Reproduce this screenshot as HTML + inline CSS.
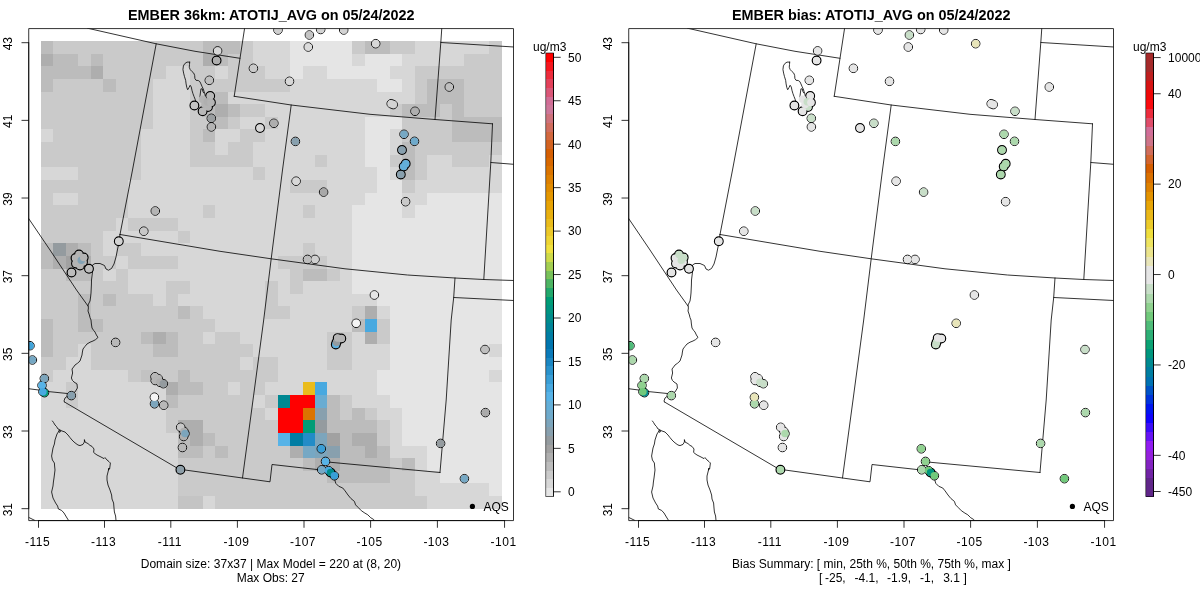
<!DOCTYPE html>
<html><head><meta charset="utf-8"><title>EMBER</title>
<style>
html,body{margin:0;padding:0;background:#fff;}
svg{display:block;font-family:"Liberation Sans",sans-serif;font-size:12px;fill:#000;will-change:transform;}
text{white-space:pre;}
.t{font-weight:bold;font-size:14.4px;text-anchor:middle;}
.m{text-anchor:middle;}
.ln{fill:none;stroke:#000;stroke-width:0.8;stroke-linejoin:round;stroke-linecap:round;}
.ax{fill:none;stroke:#000;stroke-width:0.8;}
</style></head><body>
<svg width="1200" height="600" viewBox="0 0 1200 600">
<rect x="0" y="0" width="1200" height="600" fill="#fff"/>
<defs><clipPath id="cp"><rect x="28.72" y="28.58" width="484.78" height="492"/></clipPath></defs>
<g transform="translate(0,0)">
<g clip-path="url(#cp)">
<g shape-rendering="crispEdges">
<rect x="41.00" y="41.00" width="12.76" height="12.94" fill="#BCBCBC"/>
<rect x="53.46" y="41.00" width="149.76" height="12.94" fill="#CACACA"/>
<rect x="202.92" y="41.00" width="37.67" height="12.94" fill="#BCBCBC"/>
<rect x="240.29" y="41.00" width="12.76" height="12.94" fill="#CACACA"/>
<rect x="252.74" y="41.00" width="37.67" height="12.94" fill="#D7D7D7"/>
<rect x="290.11" y="41.00" width="62.58" height="12.94" fill="#E5E5E5"/>
<rect x="352.39" y="41.00" width="12.76" height="12.94" fill="#CACACA"/>
<rect x="364.84" y="41.00" width="25.21" height="12.94" fill="#BCBCBC"/>
<rect x="389.75" y="41.00" width="25.21" height="12.94" fill="#CACACA"/>
<rect x="414.66" y="41.00" width="75.03" height="12.94" fill="#D7D7D7"/>
<rect x="489.39" y="41.00" width="12.76" height="12.94" fill="#CACACA"/>
<rect x="41.00" y="53.64" width="12.76" height="12.94" fill="#AEAEAE"/>
<rect x="53.46" y="53.64" width="25.21" height="12.94" fill="#BCBCBC"/>
<rect x="78.37" y="53.64" width="12.76" height="12.94" fill="#CACACA"/>
<rect x="90.82" y="53.64" width="12.76" height="12.94" fill="#BCBCBC"/>
<rect x="103.28" y="53.64" width="99.94" height="12.94" fill="#CACACA"/>
<rect x="202.92" y="53.64" width="12.76" height="12.94" fill="#AEAEAE"/>
<rect x="215.38" y="53.64" width="12.76" height="12.94" fill="#BCBCBC"/>
<rect x="227.83" y="53.64" width="25.21" height="12.94" fill="#CACACA"/>
<rect x="252.74" y="53.64" width="37.67" height="12.94" fill="#D7D7D7"/>
<rect x="290.11" y="53.64" width="62.58" height="12.94" fill="#E5E5E5"/>
<rect x="352.39" y="53.64" width="12.76" height="12.94" fill="#D7D7D7"/>
<rect x="364.84" y="53.64" width="37.67" height="12.94" fill="#E5E5E5"/>
<rect x="402.21" y="53.64" width="62.58" height="12.94" fill="#D7D7D7"/>
<rect x="464.48" y="53.64" width="37.67" height="12.94" fill="#CACACA"/>
<rect x="41.00" y="66.28" width="50.12" height="12.94" fill="#BCBCBC"/>
<rect x="90.82" y="66.28" width="12.76" height="12.94" fill="#AEAEAE"/>
<rect x="103.28" y="66.28" width="62.58" height="12.94" fill="#CACACA"/>
<rect x="165.55" y="66.28" width="25.21" height="12.94" fill="#D7D7D7"/>
<rect x="190.46" y="66.28" width="25.21" height="12.94" fill="#CACACA"/>
<rect x="215.38" y="66.28" width="12.76" height="12.94" fill="#D7D7D7"/>
<rect x="227.83" y="66.28" width="37.67" height="12.94" fill="#CACACA"/>
<rect x="265.20" y="66.28" width="25.21" height="12.94" fill="#D7D7D7"/>
<rect x="290.11" y="66.28" width="12.76" height="12.94" fill="#E5E5E5"/>
<rect x="302.56" y="66.28" width="25.21" height="12.94" fill="#D7D7D7"/>
<rect x="327.47" y="66.28" width="62.58" height="12.94" fill="#E5E5E5"/>
<rect x="389.75" y="66.28" width="25.21" height="12.94" fill="#D7D7D7"/>
<rect x="414.66" y="66.28" width="87.49" height="12.94" fill="#CACACA"/>
<rect x="41.00" y="78.93" width="12.76" height="12.94" fill="#BCBCBC"/>
<rect x="53.46" y="78.93" width="50.12" height="12.94" fill="#CACACA"/>
<rect x="103.28" y="78.93" width="12.76" height="12.94" fill="#BCBCBC"/>
<rect x="115.73" y="78.93" width="37.67" height="12.94" fill="#CACACA"/>
<rect x="153.10" y="78.93" width="37.67" height="12.94" fill="#D7D7D7"/>
<rect x="190.46" y="78.93" width="99.94" height="12.94" fill="#CACACA"/>
<rect x="290.11" y="78.93" width="87.49" height="12.94" fill="#D7D7D7"/>
<rect x="377.30" y="78.93" width="25.21" height="12.94" fill="#E5E5E5"/>
<rect x="402.21" y="78.93" width="12.76" height="12.94" fill="#D7D7D7"/>
<rect x="414.66" y="78.93" width="12.76" height="12.94" fill="#CACACA"/>
<rect x="427.12" y="78.93" width="37.67" height="12.94" fill="#BCBCBC"/>
<rect x="464.48" y="78.93" width="37.67" height="12.94" fill="#CACACA"/>
<rect x="41.00" y="91.57" width="112.40" height="12.94" fill="#CACACA"/>
<rect x="153.10" y="91.57" width="37.67" height="12.94" fill="#D7D7D7"/>
<rect x="190.46" y="91.57" width="25.21" height="12.94" fill="#CACACA"/>
<rect x="215.38" y="91.57" width="12.76" height="12.94" fill="#BCBCBC"/>
<rect x="227.83" y="91.57" width="187.13" height="12.94" fill="#D7D7D7"/>
<rect x="414.66" y="91.57" width="12.76" height="12.94" fill="#CACACA"/>
<rect x="427.12" y="91.57" width="37.67" height="12.94" fill="#BCBCBC"/>
<rect x="464.48" y="91.57" width="37.67" height="12.94" fill="#CACACA"/>
<rect x="41.00" y="104.21" width="112.40" height="12.94" fill="#CACACA"/>
<rect x="153.10" y="104.21" width="37.67" height="12.94" fill="#D7D7D7"/>
<rect x="190.46" y="104.21" width="12.76" height="12.94" fill="#CACACA"/>
<rect x="202.92" y="104.21" width="12.76" height="12.94" fill="#BCBCBC"/>
<rect x="215.38" y="104.21" width="12.76" height="12.94" fill="#AEAEAE"/>
<rect x="227.83" y="104.21" width="12.76" height="12.94" fill="#BCBCBC"/>
<rect x="240.29" y="104.21" width="25.21" height="12.94" fill="#CACACA"/>
<rect x="265.20" y="104.21" width="124.85" height="12.94" fill="#D7D7D7"/>
<rect x="389.75" y="104.21" width="12.76" height="12.94" fill="#CACACA"/>
<rect x="402.21" y="104.21" width="37.67" height="12.94" fill="#BCBCBC"/>
<rect x="439.57" y="104.21" width="12.76" height="12.94" fill="#CACACA"/>
<rect x="452.03" y="104.21" width="12.76" height="12.94" fill="#BCBCBC"/>
<rect x="464.48" y="104.21" width="37.67" height="12.94" fill="#CACACA"/>
<rect x="41.00" y="116.85" width="112.40" height="12.94" fill="#CACACA"/>
<rect x="153.10" y="116.85" width="37.67" height="12.94" fill="#D7D7D7"/>
<rect x="190.46" y="116.85" width="25.21" height="12.94" fill="#CACACA"/>
<rect x="215.38" y="116.85" width="12.76" height="12.94" fill="#BCBCBC"/>
<rect x="227.83" y="116.85" width="12.76" height="12.94" fill="#CACACA"/>
<rect x="240.29" y="116.85" width="25.21" height="12.94" fill="#D7D7D7"/>
<rect x="265.20" y="116.85" width="12.76" height="12.94" fill="#CACACA"/>
<rect x="277.65" y="116.85" width="87.49" height="12.94" fill="#D7D7D7"/>
<rect x="364.84" y="116.85" width="37.67" height="12.94" fill="#E5E5E5"/>
<rect x="402.21" y="116.85" width="50.12" height="12.94" fill="#CACACA"/>
<rect x="452.03" y="116.85" width="50.12" height="12.94" fill="#BCBCBC"/>
<rect x="41.00" y="129.49" width="12.76" height="12.94" fill="#D7D7D7"/>
<rect x="53.46" y="129.49" width="87.49" height="12.94" fill="#CACACA"/>
<rect x="140.64" y="129.49" width="50.12" height="12.94" fill="#D7D7D7"/>
<rect x="190.46" y="129.49" width="12.76" height="12.94" fill="#CACACA"/>
<rect x="202.92" y="129.49" width="12.76" height="12.94" fill="#BCBCBC"/>
<rect x="215.38" y="129.49" width="25.21" height="12.94" fill="#D7D7D7"/>
<rect x="240.29" y="129.49" width="25.21" height="12.94" fill="#CACACA"/>
<rect x="265.20" y="129.49" width="99.94" height="12.94" fill="#D7D7D7"/>
<rect x="364.84" y="129.49" width="25.21" height="12.94" fill="#E5E5E5"/>
<rect x="389.75" y="129.49" width="12.76" height="12.94" fill="#D7D7D7"/>
<rect x="402.21" y="129.49" width="50.12" height="12.94" fill="#CACACA"/>
<rect x="452.03" y="129.49" width="50.12" height="12.94" fill="#BCBCBC"/>
<rect x="41.00" y="142.14" width="99.94" height="12.94" fill="#CACACA"/>
<rect x="140.64" y="142.14" width="50.12" height="12.94" fill="#D7D7D7"/>
<rect x="190.46" y="142.14" width="25.21" height="12.94" fill="#CACACA"/>
<rect x="215.38" y="142.14" width="12.76" height="12.94" fill="#D7D7D7"/>
<rect x="227.83" y="142.14" width="25.21" height="12.94" fill="#CACACA"/>
<rect x="252.74" y="142.14" width="112.40" height="12.94" fill="#D7D7D7"/>
<rect x="364.84" y="142.14" width="25.21" height="12.94" fill="#E5E5E5"/>
<rect x="389.75" y="142.14" width="12.76" height="12.94" fill="#D7D7D7"/>
<rect x="402.21" y="142.14" width="12.76" height="12.94" fill="#BCBCBC"/>
<rect x="414.66" y="142.14" width="87.49" height="12.94" fill="#CACACA"/>
<rect x="41.00" y="154.78" width="99.94" height="12.94" fill="#CACACA"/>
<rect x="140.64" y="154.78" width="50.12" height="12.94" fill="#D7D7D7"/>
<rect x="190.46" y="154.78" width="62.58" height="12.94" fill="#CACACA"/>
<rect x="252.74" y="154.78" width="62.58" height="12.94" fill="#D7D7D7"/>
<rect x="315.02" y="154.78" width="12.76" height="12.94" fill="#CACACA"/>
<rect x="327.47" y="154.78" width="37.67" height="12.94" fill="#D7D7D7"/>
<rect x="364.84" y="154.78" width="25.21" height="12.94" fill="#E5E5E5"/>
<rect x="389.75" y="154.78" width="12.76" height="12.94" fill="#CACACA"/>
<rect x="402.21" y="154.78" width="12.76" height="12.94" fill="#BCBCBC"/>
<rect x="414.66" y="154.78" width="12.76" height="12.94" fill="#CACACA"/>
<rect x="427.12" y="154.78" width="25.21" height="12.94" fill="#D7D7D7"/>
<rect x="452.03" y="154.78" width="37.67" height="12.94" fill="#CACACA"/>
<rect x="489.39" y="154.78" width="12.76" height="12.94" fill="#D7D7D7"/>
<rect x="41.00" y="167.42" width="37.67" height="12.94" fill="#D7D7D7"/>
<rect x="78.37" y="167.42" width="62.58" height="12.94" fill="#CACACA"/>
<rect x="140.64" y="167.42" width="112.40" height="12.94" fill="#D7D7D7"/>
<rect x="252.74" y="167.42" width="12.76" height="12.94" fill="#CACACA"/>
<rect x="265.20" y="167.42" width="112.40" height="12.94" fill="#D7D7D7"/>
<rect x="377.30" y="167.42" width="12.76" height="12.94" fill="#E5E5E5"/>
<rect x="389.75" y="167.42" width="12.76" height="12.94" fill="#D7D7D7"/>
<rect x="402.21" y="167.42" width="12.76" height="12.94" fill="#BCBCBC"/>
<rect x="414.66" y="167.42" width="12.76" height="12.94" fill="#CACACA"/>
<rect x="427.12" y="167.42" width="75.03" height="12.94" fill="#D7D7D7"/>
<rect x="41.00" y="180.06" width="87.49" height="12.94" fill="#CACACA"/>
<rect x="128.19" y="180.06" width="162.22" height="12.94" fill="#D7D7D7"/>
<rect x="290.11" y="180.06" width="37.67" height="12.94" fill="#CACACA"/>
<rect x="327.47" y="180.06" width="50.12" height="12.94" fill="#D7D7D7"/>
<rect x="377.30" y="180.06" width="25.21" height="12.94" fill="#E5E5E5"/>
<rect x="402.21" y="180.06" width="12.76" height="12.94" fill="#CACACA"/>
<rect x="414.66" y="180.06" width="87.49" height="12.94" fill="#D7D7D7"/>
<rect x="41.00" y="192.70" width="12.76" height="12.94" fill="#CACACA"/>
<rect x="53.46" y="192.70" width="25.21" height="12.94" fill="#D7D7D7"/>
<rect x="78.37" y="192.70" width="50.12" height="12.94" fill="#CACACA"/>
<rect x="128.19" y="192.70" width="236.95" height="12.94" fill="#D7D7D7"/>
<rect x="364.84" y="192.70" width="37.67" height="12.94" fill="#E5E5E5"/>
<rect x="402.21" y="192.70" width="25.21" height="12.94" fill="#D7D7D7"/>
<rect x="427.12" y="192.70" width="75.03" height="12.94" fill="#E5E5E5"/>
<rect x="41.00" y="205.34" width="87.49" height="12.94" fill="#CACACA"/>
<rect x="128.19" y="205.34" width="75.03" height="12.94" fill="#D7D7D7"/>
<rect x="202.92" y="205.34" width="12.76" height="12.94" fill="#CACACA"/>
<rect x="215.38" y="205.34" width="87.49" height="12.94" fill="#D7D7D7"/>
<rect x="302.56" y="205.34" width="12.76" height="12.94" fill="#CACACA"/>
<rect x="315.02" y="205.34" width="37.67" height="12.94" fill="#D7D7D7"/>
<rect x="352.39" y="205.34" width="50.12" height="12.94" fill="#E5E5E5"/>
<rect x="402.21" y="205.34" width="12.76" height="12.94" fill="#D7D7D7"/>
<rect x="414.66" y="205.34" width="87.49" height="12.94" fill="#E5E5E5"/>
<rect x="41.00" y="217.99" width="75.03" height="12.94" fill="#CACACA"/>
<rect x="115.73" y="217.99" width="12.76" height="12.94" fill="#D7D7D7"/>
<rect x="128.19" y="217.99" width="50.12" height="12.94" fill="#CACACA"/>
<rect x="178.01" y="217.99" width="174.68" height="12.94" fill="#D7D7D7"/>
<rect x="352.39" y="217.99" width="149.76" height="12.94" fill="#E5E5E5"/>
<rect x="41.00" y="230.63" width="62.58" height="12.94" fill="#CACACA"/>
<rect x="103.28" y="230.63" width="75.03" height="12.94" fill="#D7D7D7"/>
<rect x="178.01" y="230.63" width="12.76" height="12.94" fill="#CACACA"/>
<rect x="190.46" y="230.63" width="162.22" height="12.94" fill="#D7D7D7"/>
<rect x="352.39" y="230.63" width="149.76" height="12.94" fill="#E5E5E5"/>
<rect x="41.00" y="243.27" width="12.76" height="12.94" fill="#BCBCBC"/>
<rect x="53.46" y="243.27" width="12.76" height="12.94" fill="#949B9F"/>
<rect x="65.91" y="243.27" width="12.76" height="12.94" fill="#AEAEAE"/>
<rect x="78.37" y="243.27" width="12.76" height="12.94" fill="#BCBCBC"/>
<rect x="90.82" y="243.27" width="12.76" height="12.94" fill="#CACACA"/>
<rect x="103.28" y="243.27" width="12.76" height="12.94" fill="#D7D7D7"/>
<rect x="115.73" y="243.27" width="25.21" height="12.94" fill="#CACACA"/>
<rect x="140.64" y="243.27" width="162.22" height="12.94" fill="#D7D7D7"/>
<rect x="302.56" y="243.27" width="12.76" height="12.94" fill="#CACACA"/>
<rect x="315.02" y="243.27" width="37.67" height="12.94" fill="#D7D7D7"/>
<rect x="352.39" y="243.27" width="149.76" height="12.94" fill="#E5E5E5"/>
<rect x="41.00" y="255.91" width="12.76" height="12.94" fill="#BCBCBC"/>
<rect x="53.46" y="255.91" width="12.76" height="12.94" fill="#AEAEAE"/>
<rect x="65.91" y="255.91" width="12.76" height="12.94" fill="#A1A1A1"/>
<rect x="78.37" y="255.91" width="12.76" height="12.94" fill="#AEAEAE"/>
<rect x="90.82" y="255.91" width="25.21" height="12.94" fill="#CACACA"/>
<rect x="115.73" y="255.91" width="12.76" height="12.94" fill="#D7D7D7"/>
<rect x="128.19" y="255.91" width="50.12" height="12.94" fill="#CACACA"/>
<rect x="178.01" y="255.91" width="99.94" height="12.94" fill="#D7D7D7"/>
<rect x="277.65" y="255.91" width="50.12" height="12.94" fill="#CACACA"/>
<rect x="327.47" y="255.91" width="25.21" height="12.94" fill="#D7D7D7"/>
<rect x="352.39" y="255.91" width="149.76" height="12.94" fill="#E5E5E5"/>
<rect x="41.00" y="268.55" width="25.21" height="12.94" fill="#CACACA"/>
<rect x="65.91" y="268.55" width="25.21" height="12.94" fill="#BCBCBC"/>
<rect x="90.82" y="268.55" width="12.76" height="12.94" fill="#CACACA"/>
<rect x="103.28" y="268.55" width="12.76" height="12.94" fill="#D7D7D7"/>
<rect x="115.73" y="268.55" width="12.76" height="12.94" fill="#CACACA"/>
<rect x="128.19" y="268.55" width="162.22" height="12.94" fill="#D7D7D7"/>
<rect x="290.11" y="268.55" width="12.76" height="12.94" fill="#CACACA"/>
<rect x="302.56" y="268.55" width="25.21" height="12.94" fill="#BCBCBC"/>
<rect x="327.47" y="268.55" width="12.76" height="12.94" fill="#CACACA"/>
<rect x="339.93" y="268.55" width="12.76" height="12.94" fill="#D7D7D7"/>
<rect x="352.39" y="268.55" width="149.76" height="12.94" fill="#E5E5E5"/>
<rect x="41.00" y="281.20" width="87.49" height="12.94" fill="#CACACA"/>
<rect x="128.19" y="281.20" width="37.67" height="12.94" fill="#D7D7D7"/>
<rect x="165.55" y="281.20" width="25.21" height="12.94" fill="#CACACA"/>
<rect x="190.46" y="281.20" width="75.03" height="12.94" fill="#D7D7D7"/>
<rect x="265.20" y="281.20" width="12.76" height="12.94" fill="#CACACA"/>
<rect x="277.65" y="281.20" width="12.76" height="12.94" fill="#D7D7D7"/>
<rect x="290.11" y="281.20" width="12.76" height="12.94" fill="#CACACA"/>
<rect x="302.56" y="281.20" width="50.12" height="12.94" fill="#D7D7D7"/>
<rect x="352.39" y="281.20" width="149.76" height="12.94" fill="#E5E5E5"/>
<rect x="41.00" y="293.84" width="37.67" height="12.94" fill="#CACACA"/>
<rect x="78.37" y="293.84" width="12.76" height="12.94" fill="#BCBCBC"/>
<rect x="90.82" y="293.84" width="12.76" height="12.94" fill="#CACACA"/>
<rect x="103.28" y="293.84" width="12.76" height="12.94" fill="#BCBCBC"/>
<rect x="115.73" y="293.84" width="37.67" height="12.94" fill="#CACACA"/>
<rect x="153.10" y="293.84" width="12.76" height="12.94" fill="#D7D7D7"/>
<rect x="165.55" y="293.84" width="12.76" height="12.94" fill="#CACACA"/>
<rect x="178.01" y="293.84" width="87.49" height="12.94" fill="#D7D7D7"/>
<rect x="265.20" y="293.84" width="12.76" height="12.94" fill="#CACACA"/>
<rect x="277.65" y="293.84" width="99.94" height="12.94" fill="#D7D7D7"/>
<rect x="377.30" y="293.84" width="124.85" height="12.94" fill="#E5E5E5"/>
<rect x="41.00" y="306.48" width="37.67" height="12.94" fill="#CACACA"/>
<rect x="78.37" y="306.48" width="12.76" height="12.94" fill="#BCBCBC"/>
<rect x="90.82" y="306.48" width="87.49" height="12.94" fill="#CACACA"/>
<rect x="178.01" y="306.48" width="12.76" height="12.94" fill="#BCBCBC"/>
<rect x="190.46" y="306.48" width="12.76" height="12.94" fill="#CACACA"/>
<rect x="202.92" y="306.48" width="62.58" height="12.94" fill="#D7D7D7"/>
<rect x="265.20" y="306.48" width="25.21" height="12.94" fill="#CACACA"/>
<rect x="290.11" y="306.48" width="62.58" height="12.94" fill="#D7D7D7"/>
<rect x="352.39" y="306.48" width="12.76" height="12.94" fill="#CACACA"/>
<rect x="364.84" y="306.48" width="12.76" height="12.94" fill="#AEAEAE"/>
<rect x="377.30" y="306.48" width="12.76" height="12.94" fill="#D7D7D7"/>
<rect x="389.75" y="306.48" width="112.40" height="12.94" fill="#E5E5E5"/>
<rect x="41.00" y="319.12" width="12.76" height="12.94" fill="#BCBCBC"/>
<rect x="53.46" y="319.12" width="25.21" height="12.94" fill="#CACACA"/>
<rect x="78.37" y="319.12" width="25.21" height="12.94" fill="#BCBCBC"/>
<rect x="103.28" y="319.12" width="112.40" height="12.94" fill="#CACACA"/>
<rect x="215.38" y="319.12" width="137.31" height="12.94" fill="#D7D7D7"/>
<rect x="352.39" y="319.12" width="12.76" height="12.94" fill="#BCBCBC"/>
<rect x="364.84" y="319.12" width="12.76" height="12.94" fill="#48A9E0"/>
<rect x="377.30" y="319.12" width="12.76" height="12.94" fill="#CACACA"/>
<rect x="389.75" y="319.12" width="112.40" height="12.94" fill="#E5E5E5"/>
<rect x="41.00" y="331.76" width="12.76" height="12.94" fill="#BCBCBC"/>
<rect x="53.46" y="331.76" width="87.49" height="12.94" fill="#CACACA"/>
<rect x="140.64" y="331.76" width="12.76" height="12.94" fill="#BCBCBC"/>
<rect x="153.10" y="331.76" width="12.76" height="12.94" fill="#AEAEAE"/>
<rect x="165.55" y="331.76" width="12.76" height="12.94" fill="#BCBCBC"/>
<rect x="178.01" y="331.76" width="25.21" height="12.94" fill="#CACACA"/>
<rect x="202.92" y="331.76" width="12.76" height="12.94" fill="#D7D7D7"/>
<rect x="215.38" y="331.76" width="25.21" height="12.94" fill="#CACACA"/>
<rect x="240.29" y="331.76" width="87.49" height="12.94" fill="#D7D7D7"/>
<rect x="327.47" y="331.76" width="25.21" height="12.94" fill="#CACACA"/>
<rect x="352.39" y="331.76" width="12.76" height="12.94" fill="#D7D7D7"/>
<rect x="364.84" y="331.76" width="12.76" height="12.94" fill="#AEAEAE"/>
<rect x="377.30" y="331.76" width="12.76" height="12.94" fill="#CACACA"/>
<rect x="389.75" y="331.76" width="112.40" height="12.94" fill="#E5E5E5"/>
<rect x="41.00" y="344.41" width="12.76" height="12.94" fill="#BCBCBC"/>
<rect x="53.46" y="344.41" width="25.21" height="12.94" fill="#CACACA"/>
<rect x="78.37" y="344.41" width="12.76" height="12.94" fill="#D7D7D7"/>
<rect x="90.82" y="344.41" width="62.58" height="12.94" fill="#CACACA"/>
<rect x="153.10" y="344.41" width="25.21" height="12.94" fill="#BCBCBC"/>
<rect x="178.01" y="344.41" width="75.03" height="12.94" fill="#CACACA"/>
<rect x="252.74" y="344.41" width="75.03" height="12.94" fill="#D7D7D7"/>
<rect x="327.47" y="344.41" width="25.21" height="12.94" fill="#CACACA"/>
<rect x="352.39" y="344.41" width="37.67" height="12.94" fill="#D7D7D7"/>
<rect x="389.75" y="344.41" width="99.94" height="12.94" fill="#E5E5E5"/>
<rect x="489.39" y="344.41" width="12.76" height="12.94" fill="#D7D7D7"/>
<rect x="41.00" y="357.05" width="25.21" height="12.94" fill="#CACACA"/>
<rect x="65.91" y="357.05" width="25.21" height="12.94" fill="#D7D7D7"/>
<rect x="90.82" y="357.05" width="149.76" height="12.94" fill="#CACACA"/>
<rect x="240.29" y="357.05" width="12.76" height="12.94" fill="#D7D7D7"/>
<rect x="252.74" y="357.05" width="25.21" height="12.94" fill="#CACACA"/>
<rect x="277.65" y="357.05" width="50.12" height="12.94" fill="#D7D7D7"/>
<rect x="327.47" y="357.05" width="25.21" height="12.94" fill="#CACACA"/>
<rect x="352.39" y="357.05" width="37.67" height="12.94" fill="#D7D7D7"/>
<rect x="389.75" y="357.05" width="112.40" height="12.94" fill="#E5E5E5"/>
<rect x="41.00" y="369.69" width="12.76" height="12.94" fill="#CACACA"/>
<rect x="53.46" y="369.69" width="75.03" height="12.94" fill="#D7D7D7"/>
<rect x="128.19" y="369.69" width="12.76" height="12.94" fill="#CACACA"/>
<rect x="140.64" y="369.69" width="12.76" height="12.94" fill="#C2C2C2"/>
<rect x="153.10" y="369.69" width="25.21" height="12.94" fill="#CACACA"/>
<rect x="178.01" y="369.69" width="12.76" height="12.94" fill="#BCBCBC"/>
<rect x="190.46" y="369.69" width="87.49" height="12.94" fill="#CACACA"/>
<rect x="277.65" y="369.69" width="99.94" height="12.94" fill="#D7D7D7"/>
<rect x="377.30" y="369.69" width="112.40" height="12.94" fill="#E5E5E5"/>
<rect x="489.39" y="369.69" width="12.76" height="12.94" fill="#D7D7D7"/>
<rect x="41.00" y="382.33" width="25.21" height="12.94" fill="#D7D7D7"/>
<rect x="65.91" y="382.33" width="12.76" height="12.94" fill="#CACACA"/>
<rect x="78.37" y="382.33" width="87.49" height="12.94" fill="#D7D7D7"/>
<rect x="165.55" y="382.33" width="12.76" height="12.94" fill="#AEAEAE"/>
<rect x="178.01" y="382.33" width="25.21" height="12.94" fill="#BCBCBC"/>
<rect x="202.92" y="382.33" width="25.21" height="12.94" fill="#CACACA"/>
<rect x="227.83" y="382.33" width="12.76" height="12.94" fill="#D7D7D7"/>
<rect x="240.29" y="382.33" width="25.21" height="12.94" fill="#CACACA"/>
<rect x="265.20" y="382.33" width="37.67" height="12.94" fill="#D7D7D7"/>
<rect x="302.56" y="382.33" width="12.76" height="12.94" fill="#EABC1C"/>
<rect x="315.02" y="382.33" width="12.76" height="12.94" fill="#48A9E0"/>
<rect x="327.47" y="382.33" width="50.12" height="12.94" fill="#D7D7D7"/>
<rect x="377.30" y="382.33" width="124.85" height="12.94" fill="#E5E5E5"/>
<rect x="41.00" y="394.97" width="25.21" height="12.94" fill="#D7D7D7"/>
<rect x="65.91" y="394.97" width="12.76" height="12.94" fill="#CACACA"/>
<rect x="78.37" y="394.97" width="87.49" height="12.94" fill="#D7D7D7"/>
<rect x="165.55" y="394.97" width="12.76" height="12.94" fill="#BCBCBC"/>
<rect x="178.01" y="394.97" width="75.03" height="12.94" fill="#CACACA"/>
<rect x="252.74" y="394.97" width="12.76" height="12.94" fill="#D7D7D7"/>
<rect x="265.20" y="394.97" width="12.76" height="12.94" fill="#CACACA"/>
<rect x="277.65" y="394.97" width="12.76" height="12.94" fill="#008892"/>
<rect x="290.11" y="394.97" width="25.21" height="12.94" fill="#FF0000"/>
<rect x="315.02" y="394.97" width="12.76" height="12.94" fill="#69ACD2"/>
<rect x="327.47" y="394.97" width="12.76" height="12.94" fill="#BCBCBC"/>
<rect x="339.93" y="394.97" width="12.76" height="12.94" fill="#CACACA"/>
<rect x="352.39" y="394.97" width="37.67" height="12.94" fill="#D7D7D7"/>
<rect x="389.75" y="394.97" width="112.40" height="12.94" fill="#E5E5E5"/>
<rect x="41.00" y="407.61" width="124.85" height="12.94" fill="#D7D7D7"/>
<rect x="165.55" y="407.61" width="99.94" height="12.94" fill="#CACACA"/>
<rect x="265.20" y="407.61" width="12.76" height="12.94" fill="#D7D7D7"/>
<rect x="277.65" y="407.61" width="25.21" height="12.94" fill="#FF0000"/>
<rect x="302.56" y="407.61" width="12.76" height="12.94" fill="#DB7400"/>
<rect x="315.02" y="407.61" width="12.76" height="12.94" fill="#88A0AE"/>
<rect x="327.47" y="407.61" width="12.76" height="12.94" fill="#BCBCBC"/>
<rect x="339.93" y="407.61" width="12.76" height="12.94" fill="#CACACA"/>
<rect x="352.39" y="407.61" width="12.76" height="12.94" fill="#BCBCBC"/>
<rect x="364.84" y="407.61" width="12.76" height="12.94" fill="#CACACA"/>
<rect x="377.30" y="407.61" width="25.21" height="12.94" fill="#D7D7D7"/>
<rect x="402.21" y="407.61" width="99.94" height="12.94" fill="#E5E5E5"/>
<rect x="41.00" y="420.26" width="124.85" height="12.94" fill="#D7D7D7"/>
<rect x="165.55" y="420.26" width="12.76" height="12.94" fill="#CACACA"/>
<rect x="178.01" y="420.26" width="25.21" height="12.94" fill="#AEAEAE"/>
<rect x="202.92" y="420.26" width="75.03" height="12.94" fill="#CACACA"/>
<rect x="277.65" y="420.26" width="25.21" height="12.94" fill="#FF0000"/>
<rect x="302.56" y="420.26" width="12.76" height="12.94" fill="#009C76"/>
<rect x="315.02" y="420.26" width="12.76" height="12.94" fill="#949B9F"/>
<rect x="327.47" y="420.26" width="50.12" height="12.94" fill="#BCBCBC"/>
<rect x="377.30" y="420.26" width="12.76" height="12.94" fill="#CACACA"/>
<rect x="389.75" y="420.26" width="12.76" height="12.94" fill="#D7D7D7"/>
<rect x="402.21" y="420.26" width="99.94" height="12.94" fill="#E5E5E5"/>
<rect x="41.00" y="432.90" width="137.31" height="12.94" fill="#D7D7D7"/>
<rect x="178.01" y="432.90" width="12.76" height="12.94" fill="#BCBCBC"/>
<rect x="190.46" y="432.90" width="12.76" height="12.94" fill="#AEAEAE"/>
<rect x="202.92" y="432.90" width="12.76" height="12.94" fill="#BCBCBC"/>
<rect x="215.38" y="432.90" width="62.58" height="12.94" fill="#CACACA"/>
<rect x="277.65" y="432.90" width="12.76" height="12.94" fill="#57B3E7"/>
<rect x="290.11" y="432.90" width="12.76" height="12.94" fill="#007DA3"/>
<rect x="302.56" y="432.90" width="12.76" height="12.94" fill="#228CC7"/>
<rect x="315.02" y="432.90" width="12.76" height="12.94" fill="#7CA5BC"/>
<rect x="327.47" y="432.90" width="12.76" height="12.94" fill="#A1A1A1"/>
<rect x="339.93" y="432.90" width="12.76" height="12.94" fill="#BCBCBC"/>
<rect x="352.39" y="432.90" width="25.21" height="12.94" fill="#AEAEAE"/>
<rect x="377.30" y="432.90" width="12.76" height="12.94" fill="#CACACA"/>
<rect x="389.75" y="432.90" width="12.76" height="12.94" fill="#D7D7D7"/>
<rect x="402.21" y="432.90" width="99.94" height="12.94" fill="#E5E5E5"/>
<rect x="41.00" y="445.54" width="137.31" height="12.94" fill="#D7D7D7"/>
<rect x="178.01" y="445.54" width="25.21" height="12.94" fill="#BCBCBC"/>
<rect x="202.92" y="445.54" width="12.76" height="12.94" fill="#CACACA"/>
<rect x="215.38" y="445.54" width="12.76" height="12.94" fill="#BCBCBC"/>
<rect x="227.83" y="445.54" width="62.58" height="12.94" fill="#CACACA"/>
<rect x="290.11" y="445.54" width="12.76" height="12.94" fill="#AEAEAE"/>
<rect x="302.56" y="445.54" width="12.76" height="12.94" fill="#76A8C4"/>
<rect x="315.02" y="445.54" width="12.76" height="12.94" fill="#7CA5BC"/>
<rect x="327.47" y="445.54" width="12.76" height="12.94" fill="#88A0AE"/>
<rect x="339.93" y="445.54" width="25.21" height="12.94" fill="#BCBCBC"/>
<rect x="364.84" y="445.54" width="12.76" height="12.94" fill="#AEAEAE"/>
<rect x="377.30" y="445.54" width="12.76" height="12.94" fill="#BCBCBC"/>
<rect x="389.75" y="445.54" width="37.67" height="12.94" fill="#D7D7D7"/>
<rect x="427.12" y="445.54" width="75.03" height="12.94" fill="#E5E5E5"/>
<rect x="41.00" y="458.18" width="137.31" height="12.94" fill="#D7D7D7"/>
<rect x="178.01" y="458.18" width="124.85" height="12.94" fill="#CACACA"/>
<rect x="302.56" y="458.18" width="12.76" height="12.94" fill="#BCBCBC"/>
<rect x="315.02" y="458.18" width="25.21" height="12.94" fill="#AEAEAE"/>
<rect x="339.93" y="458.18" width="50.12" height="12.94" fill="#BCBCBC"/>
<rect x="389.75" y="458.18" width="12.76" height="12.94" fill="#CACACA"/>
<rect x="402.21" y="458.18" width="12.76" height="12.94" fill="#BCBCBC"/>
<rect x="414.66" y="458.18" width="12.76" height="12.94" fill="#D7D7D7"/>
<rect x="427.12" y="458.18" width="75.03" height="12.94" fill="#E5E5E5"/>
<rect x="41.00" y="470.82" width="137.31" height="12.94" fill="#D7D7D7"/>
<rect x="178.01" y="470.82" width="149.76" height="12.94" fill="#CACACA"/>
<rect x="327.47" y="470.82" width="62.58" height="12.94" fill="#BCBCBC"/>
<rect x="389.75" y="470.82" width="25.21" height="12.94" fill="#CACACA"/>
<rect x="414.66" y="470.82" width="25.21" height="12.94" fill="#D7D7D7"/>
<rect x="439.57" y="470.82" width="62.58" height="12.94" fill="#E5E5E5"/>
<rect x="41.00" y="483.47" width="137.31" height="12.94" fill="#D7D7D7"/>
<rect x="178.01" y="483.47" width="236.95" height="12.94" fill="#CACACA"/>
<rect x="414.66" y="483.47" width="75.03" height="12.94" fill="#D7D7D7"/>
<rect x="489.39" y="483.47" width="12.76" height="12.94" fill="#E5E5E5"/>
<rect x="41.00" y="496.11" width="137.31" height="12.94" fill="#D7D7D7"/>
<rect x="178.01" y="496.11" width="25.21" height="12.94" fill="#C4C4C4"/>
<rect x="202.92" y="496.11" width="12.76" height="12.94" fill="#D7D7D7"/>
<rect x="215.38" y="496.11" width="212.04" height="12.94" fill="#CACACA"/>
<rect x="427.12" y="496.11" width="75.03" height="12.94" fill="#D7D7D7"/>
</g>
<g class="ln">
<path d="M87.5 28.2 L156.2 43.8 L195 51.3 L240 58.3"/>
<path d="M156.2 43.8 L132.5 170 L120 234.5"/>
<path d="M244.6 28.2 L240 58.3 L234.2 96.3"/>
<path d="M234.2 96.3 L291.2 105 L370 114.3 L435 119.5 L492.5 123.8"/>
<path d="M291.2 105 L282.5 170 L271.2 258.8 L263.7 320 L253 400 L242.5 478"/>
<path d="M441.8 28.2 L440.8 42.5 L435 119.5"/>
<path d="M440.8 42.5 L513.8 47"/>
<path d="M492.5 123.8 L490.8 162.5 L483.8 279.5"/>
<path d="M490.8 162.5 L513.8 164.3"/>
<path d="M120 234.5 L220 251.3 L271.2 258.8 L345 268.8 L407.5 275 L455 278 L483.8 279.5 L513.8 280.5"/>
<path d="M455 278 L453.7 297.5 L451.2 320 L446.2 400 L440 472.5"/>
<path d="M453.7 297.5 L513.8 300.5"/>
<path d="M28.5 218.3 L50 250 L76.5 290 L88 306"/>
<path d="M120 234.5 L118 247 L116 257 L114 264 L111.5 268.5 L108.5 270.2 L106 269 L104.5 265.5 L100 263.5 L95 263.5 L92.5 265 L92 269 L92.5 272 L91.5 280 L91.4 285 L91 293 L90.6 297 L90 301 L88 305 L88.4 308 L88 311 L89.4 315 L90 317.6 L91 320 L91.4 324 L92 328 L93.6 330.4 L95 332 L96.4 335 L98 337.4 L95.6 339.6 L93 341 L90 342.2 L87 344 L85 346.4 L83 349 L82.4 352 L82 355 L81 358 L80 361 L77.6 363.2 L75 365 L73.6 367 L72 369 L72.6 373 L71.4 378 L72.4 380.4 L74 382 L77 384 L77.4 388 L75 392 L71 394.5 L66.7 396.7 L65 398 L64 401 L64.5 402"/>
<path d="M28.5 388.7 L38.7 390 L48.7 391.6 L67.3 393.5"/>
<path d="M64.5 402 L177.5 468.3 L185 470 L242.5 478 L270 481.8 L272 464.5 L321.2 470"/>
<path d="M321.2 470 L324 465 L327.5 462 L440 472.5"/>
<path d="M330 473.8 L334.6 475.8 L334.9 480.4 L335.75 483.3 L338.7 486.25 L342.75 488 L345.1 490.9 L348 495 L350.9 498.5 L354.4 501.4 L355.6 504.9 L358.5 507.8 L361.4 510.75 L364.9 513.1 L367.8 514.8 L370.75 517.75 L373.7 519.5 L373.9 520.5"/>
<path d="M52.4 421 L53.6 422.6 L55 425 L56.4 426.4 L58 429 L59.6 429.6 L60.6 431.6 L59.4 432.4 L58.8 430.6 L60 430 L62 431 L65 432 L68 435 L70 437.6 L72 440 L74 442 L76 443.6 L78 445 L80 445.6 L83 444.4 L84.4 442 L84.4 439.6 L85 442 L88 443.6 L90 445.4 L92 446.4 L94 449 L93.6 452.4 L95 453.6 L97 455 L101 457 L104 458.6 L105 457.6 L107 460 L109 461.6 L110.4 463 L110 466 L109.6 469 L108.4 470 L109 468 L108 472 L107 476 L107 480 L108 485 L110 490 L111.6 495 L112 499 L113.6 503 L114 508 L114.4 512 L115.6 516 L116 520.5"/>
<path d="M59 431 L57 434 L55 440 L54.4 444 L53 448 L51.6 456 L52.4 460 L54.4 463 L54.6 466 L55 470 L54 478 L53.4 482 L53 486 L51.6 492 L53 498 L55.6 503 L57.6 506 L58.4 509 L61.6 510.4 L64 513 L66.4 517 L68.6 520.5"/>
<path d="M28.5 517.3 L35 520.5"/>
<path d="M189.7 62.1 L187 62.1 L184.75 63.65 L183.4 65.9 L182.95 69.5 L183.6 73.1 L184.5 76.7 L185.65 80.3 L186.1 83.9 L186.8 87.5 L187.7 89.75 L189 87.5 L190.15 85.25 L191.3 87.05 L191.95 90.2 L192.85 93.35 L194 96.5 L195.1 99.2 L195.6 101"/>
<path d="M189.7 62.1 L189.5 64.55 L189.25 67.25 L190.15 69.5 L191.95 71.5 L193.75 73.1 L194.65 75.35 L194.9 78.5 L196 80.3 L198.25 80.5 L199.9 81.65 L200.95 83.9 L202.1 86.6 L203.2 88.85 L204.1 91.55 L204.8 93.8 L205.2 95.8"/>
<path d="M199.6 98.3 L200.05 95.6 L200.5 92 L200.95 88.85 L202.3 88.85 L202.75 91.1 L203.65 92.9"/>
</g>
<g fill="none" stroke="#000">
<circle cx="278" cy="30" r="4.25" stroke-opacity="0.95" stroke-width="1"/>
<circle cx="320.7" cy="29.5" r="4.25" stroke-opacity="0.95" stroke-width="1"/>
<circle cx="343.7" cy="30" r="4.25" stroke-opacity="0.95" stroke-width="1"/>
<circle cx="309.4" cy="35" r="4.25" stroke-opacity="0.95" stroke-width="1"/>
<circle cx="308.3" cy="47" r="4.25" stroke-opacity="0.95" stroke-width="1"/>
<circle cx="375.7" cy="43.7" r="4.25" stroke-opacity="0.95" stroke-width="1"/>
<circle cx="217.6" cy="50.9" r="4.25" stroke-opacity="0.95" stroke-width="1"/>
<circle cx="216.6" cy="60.5" r="4.25" stroke-opacity="1" stroke-width="1.4"/>
<circle cx="253.4" cy="68.3" r="4.25" stroke-opacity="0.95" stroke-width="1"/>
<circle cx="289.5" cy="81.3" r="4.25" stroke-opacity="0.95" stroke-width="1"/>
<circle cx="449.3" cy="87" r="4.25" stroke-opacity="0.95" stroke-width="1"/>
<circle cx="391.2" cy="103.7" r="4.25" stroke-opacity="0.95" stroke-width="1"/>
<circle cx="393.2" cy="104.6" r="4.25" stroke-opacity="0.95" stroke-width="1"/>
<circle cx="415" cy="111.3" r="4.25" stroke-opacity="0.95" stroke-width="1"/>
<circle cx="209.3" cy="80.3" r="4.25" stroke-opacity="0.95" stroke-width="1"/>
<circle cx="210.2" cy="96" r="4.25" stroke-opacity="1" stroke-width="1.4"/>
<circle cx="208" cy="107" r="4.25" stroke-opacity="1" stroke-width="1.4"/>
<circle cx="210.9" cy="102.6" r="4.25" stroke-opacity="1" stroke-width="1.4"/>
<circle cx="194.4" cy="105.5" r="4.25" stroke-opacity="1" stroke-width="1.4"/>
<circle cx="202.6" cy="111.2" r="4.25" stroke-opacity="1" stroke-width="1.4"/>
<circle cx="211.3" cy="118.3" r="4.25" stroke-opacity="0.95" stroke-width="1"/>
<circle cx="211.4" cy="126.9" r="4.25" stroke-opacity="0.95" stroke-width="1"/>
<circle cx="260" cy="128" r="4.25" stroke-opacity="1" stroke-width="1.4"/>
<circle cx="273.9" cy="123.3" r="4.25" stroke-opacity="0.95" stroke-width="1"/>
<circle cx="295.4" cy="141.4" r="4.25" stroke-opacity="0.95" stroke-width="1"/>
<circle cx="404" cy="134.3" r="4.25" stroke-opacity="0.95" stroke-width="1"/>
<circle cx="414.5" cy="141.3" r="4.25" stroke-opacity="0.95" stroke-width="1"/>
<circle cx="402" cy="150" r="4.25" stroke-opacity="1" stroke-width="1.4"/>
<circle cx="403.7" cy="166.6" r="4.25" stroke-opacity="1" stroke-width="1.4"/>
<circle cx="405.7" cy="163.8" r="4.25" stroke-opacity="1" stroke-width="1.4"/>
<circle cx="400.8" cy="174.5" r="4.25" stroke-opacity="1" stroke-width="1.4"/>
<circle cx="296.1" cy="181.2" r="4.25" stroke-opacity="0.95" stroke-width="1"/>
<circle cx="323.6" cy="192.1" r="4.25" stroke-opacity="0.95" stroke-width="1"/>
<circle cx="405.6" cy="201.7" r="4.25" stroke-opacity="0.95" stroke-width="1"/>
<circle cx="155.3" cy="211" r="4.25" stroke-opacity="0.95" stroke-width="1"/>
<circle cx="143.8" cy="231.2" r="4.25" stroke-opacity="0.95" stroke-width="1"/>
<circle cx="118.8" cy="241.2" r="4.25" stroke-opacity="1" stroke-width="1.4"/>
<circle cx="75.5" cy="258" r="4.25" stroke-opacity="1" stroke-width="1.4"/>
<circle cx="76" cy="263.5" r="4.25" stroke-opacity="1" stroke-width="1.4"/>
<circle cx="80" cy="265.5" r="4.25" stroke-opacity="1" stroke-width="1.4"/>
<circle cx="79" cy="254.5" r="4.25" stroke-opacity="1" stroke-width="1.4"/>
<circle cx="83" cy="262" r="4.25" stroke-opacity="1" stroke-width="1.4"/>
<circle cx="81.3" cy="260.3" r="4.25" stroke-opacity="1" stroke-width="1.4"/>
<circle cx="83.7" cy="257.4" r="4.25" stroke-opacity="1" stroke-width="1.4"/>
<circle cx="89" cy="268.8" r="4.25" stroke-opacity="1" stroke-width="1.4"/>
<circle cx="71.5" cy="272.5" r="4.25" stroke-opacity="1" stroke-width="1.4"/>
<circle cx="307.5" cy="259.4" r="4.25" stroke-opacity="0.95" stroke-width="1"/>
<circle cx="315" cy="259.4" r="4.25" stroke-opacity="0.95" stroke-width="1"/>
<circle cx="374.4" cy="295" r="4.25" stroke-opacity="0.95" stroke-width="1"/>
<circle cx="356.2" cy="323.3" r="4.25" stroke-opacity="0.95" stroke-width="1"/>
<circle cx="335.8" cy="344.5" r="4.25" stroke-opacity="1" stroke-width="1.4"/>
<circle cx="336.5" cy="342.3" r="4.25" stroke-opacity="1" stroke-width="1.4"/>
<circle cx="337.7" cy="338.1" r="4.25" stroke-opacity="1" stroke-width="1.4"/>
<circle cx="341.3" cy="338.5" r="4.25" stroke-opacity="1" stroke-width="1.4"/>
<circle cx="485" cy="349.5" r="4.25" stroke-opacity="0.95" stroke-width="1"/>
<circle cx="485.4" cy="412.6" r="4.25" stroke-opacity="0.95" stroke-width="1"/>
<circle cx="440.6" cy="443.4" r="4.25" stroke-opacity="0.95" stroke-width="1"/>
<circle cx="464.4" cy="478.7" r="4.25" stroke-opacity="0.95" stroke-width="1"/>
<circle cx="321.3" cy="448.8" r="4.25" stroke-opacity="0.95" stroke-width="1"/>
<circle cx="325.5" cy="461.4" r="4.25" stroke-opacity="0.95" stroke-width="1"/>
<circle cx="321.7" cy="469.8" r="4.25" stroke-opacity="0.95" stroke-width="1"/>
<circle cx="328.6" cy="470.6" r="4.25" stroke-opacity="0.95" stroke-width="1"/>
<circle cx="330.6" cy="472.6" r="4.25" stroke-opacity="1" stroke-width="1.4"/>
<circle cx="334.4" cy="475.8" r="4.25" stroke-opacity="0.95" stroke-width="1"/>
<circle cx="30" cy="345.7" r="4.25" stroke-opacity="0.95" stroke-width="1"/>
<circle cx="32.4" cy="360" r="4.25" stroke-opacity="0.95" stroke-width="1"/>
<circle cx="44.3" cy="378.5" r="4.25" stroke-opacity="0.95" stroke-width="1"/>
<circle cx="42" cy="385.4" r="4.25" stroke-opacity="0.95" stroke-width="1"/>
<circle cx="44.5" cy="392.7" r="4.25" stroke-opacity="0.95" stroke-width="1"/>
<circle cx="42.9" cy="391.7" r="4.25" stroke-opacity="0.95" stroke-width="1"/>
<circle cx="71.3" cy="395.6" r="4.25" stroke-opacity="0.95" stroke-width="1"/>
<circle cx="115.6" cy="342.4" r="4.25" stroke-opacity="0.95" stroke-width="1"/>
<circle cx="155" cy="376.8" r="4.25" stroke-opacity="0.95" stroke-width="1"/>
<circle cx="155.2" cy="380.5" r="4.25" stroke-opacity="0.95" stroke-width="1"/>
<circle cx="158.2" cy="378.6" r="4.25" stroke-opacity="0.95" stroke-width="1"/>
<circle cx="160" cy="382.3" r="4.25" stroke-opacity="0.95" stroke-width="1"/>
<circle cx="163.3" cy="383.7" r="4.25" stroke-opacity="0.95" stroke-width="1"/>
<circle cx="154.5" cy="403.8" r="4.25" stroke-opacity="0.95" stroke-width="1"/>
<circle cx="154.4" cy="397.2" r="4.25" stroke-opacity="0.95" stroke-width="1"/>
<circle cx="163.7" cy="405.2" r="4.25" stroke-opacity="0.95" stroke-width="1"/>
<circle cx="180.7" cy="427.3" r="4.25" stroke-opacity="0.95" stroke-width="1"/>
<circle cx="183.7" cy="436.5" r="4.25" stroke-opacity="0.95" stroke-width="1"/>
<circle cx="183.9" cy="431.4" r="4.25" stroke-opacity="0.95" stroke-width="1"/>
<circle cx="185" cy="433.6" r="4.25" stroke-opacity="0.95" stroke-width="1"/>
<circle cx="182.4" cy="447.5" r="4.25" stroke-opacity="0.95" stroke-width="1"/>
<circle cx="180.4" cy="469.8" r="4.25" stroke-opacity="1" stroke-width="1.4"/>
</g>
<g>
<circle cx="278" cy="30" r="3.75" fill="#CFCFCF"/>
<circle cx="320.7" cy="29.5" r="3.75" fill="#D3D3D3"/>
<circle cx="343.7" cy="30" r="3.75" fill="#D3D3D3"/>
<circle cx="309.4" cy="35" r="3.75" fill="#C4C4C4"/>
<circle cx="308.3" cy="47" r="3.75" fill="#DBDBDB"/>
<circle cx="375.7" cy="43.7" r="3.75" fill="#D7D7D7"/>
<circle cx="217.6" cy="50.9" r="3.75" fill="#D7D7D7"/>
<circle cx="216.6" cy="60.5" r="3.75" fill="#AEAEAE"/>
<circle cx="253.4" cy="68.3" r="3.75" fill="#CACACA"/>
<circle cx="289.5" cy="81.3" r="3.75" fill="#D7D7D7"/>
<circle cx="449.3" cy="87" r="3.75" fill="#BFBFBF"/>
<circle cx="391.2" cy="103.7" r="3.75" fill="#D3D3D3"/>
<circle cx="393.2" cy="104.6" r="3.75" fill="#D3D3D3"/>
<circle cx="415" cy="111.3" r="3.75" fill="#AEAEAE"/>
<circle cx="209.3" cy="80.3" r="3.75" fill="#BFBFBF"/>
<circle cx="210.2" cy="96" r="3.75" fill="#B9B9B9"/>
<circle cx="202.5" cy="99.3" r="3.75" fill="#B5B5B5"/>
<circle cx="208" cy="107" r="3.75" fill="#B4B4B4"/>
<circle cx="205" cy="104.5" r="3.75" fill="#B4B4B4"/>
<circle cx="207.3" cy="101.8" r="3.75" fill="#AFAFAF"/>
<circle cx="210.9" cy="102.6" r="3.75" fill="#B4B4B4"/>
<circle cx="194.4" cy="105.5" r="3.75" fill="#C3C3C3"/>
<circle cx="202.6" cy="111.2" r="3.75" fill="#B8B8B8"/>
<circle cx="211.3" cy="118.3" r="3.75" fill="#9A9EA0"/>
<circle cx="211.4" cy="126.9" r="3.75" fill="#B4B4B4"/>
<circle cx="260" cy="128" r="3.75" fill="#D7D7D7"/>
<circle cx="273.9" cy="123.3" r="3.75" fill="#AEAEAE"/>
<circle cx="295.4" cy="141.4" r="3.75" fill="#88A0AE"/>
<circle cx="404" cy="134.3" r="3.75" fill="#76A8C4"/>
<circle cx="414.5" cy="141.3" r="3.75" fill="#6FAACB"/>
<circle cx="402" cy="150" r="3.75" fill="#88A0AE"/>
<circle cx="403.7" cy="166.6" r="3.75" fill="#63AFD9"/>
<circle cx="405.7" cy="163.8" r="3.75" fill="#63AFD9"/>
<circle cx="400.8" cy="174.5" r="3.75" fill="#88A0AE"/>
<circle cx="296.1" cy="181.2" r="3.75" fill="#D7D7D7"/>
<circle cx="323.6" cy="192.1" r="3.75" fill="#A8A8A8"/>
<circle cx="405.6" cy="201.7" r="3.75" fill="#C9C9C9"/>
<circle cx="155.3" cy="211" r="3.75" fill="#B4B4B4"/>
<circle cx="143.8" cy="231.2" r="3.75" fill="#C7C7C7"/>
<circle cx="118.8" cy="241.2" r="3.75" fill="#D2D2D2"/>
<circle cx="75.5" cy="258" r="3.75" fill="#B4B4B4"/>
<circle cx="76" cy="263.5" r="3.75" fill="#B4B4B4"/>
<circle cx="80" cy="265.5" r="3.75" fill="#B4B4B4"/>
<circle cx="79" cy="254.5" r="3.75" fill="#B4B4B4"/>
<circle cx="83" cy="262" r="3.75" fill="#B4B4B4"/>
<circle cx="81.3" cy="260.3" r="3.75" fill="#82A2B5"/>
<circle cx="83.7" cy="257.4" r="3.75" fill="#B4B4B4"/>
<circle cx="89" cy="268.8" r="3.75" fill="#BFBFBF"/>
<circle cx="71.5" cy="272.5" r="3.75" fill="#BCBCBC"/>
<circle cx="307.5" cy="259.4" r="3.75" fill="#BCBCBC"/>
<circle cx="315" cy="259.4" r="3.75" fill="#CFCFCF"/>
<circle cx="374.4" cy="295" r="3.75" fill="#E5E5E5"/>
<circle cx="356.2" cy="323.3" r="3.75" fill="#F4F4F4"/>
<circle cx="335.8" cy="344.5" r="3.75" fill="#5DB1E0"/>
<circle cx="336.5" cy="342.3" r="3.75" fill="#949B9F"/>
<circle cx="337.7" cy="338.1" r="3.75" fill="#B5B5B5"/>
<circle cx="341.3" cy="338.5" r="3.75" fill="#B5B5B5"/>
<circle cx="485" cy="349.5" r="3.75" fill="#BFBFBF"/>
<circle cx="485.4" cy="412.6" r="3.75" fill="#AAAAAA"/>
<circle cx="440.6" cy="443.4" r="3.75" fill="#949B9F"/>
<circle cx="464.4" cy="478.7" r="3.75" fill="#76A8C4"/>
<circle cx="321.3" cy="448.8" r="3.75" fill="#399ED6"/>
<circle cx="325.5" cy="461.4" r="3.75" fill="#57B3E7"/>
<circle cx="321.7" cy="469.8" r="3.75" fill="#76A8C4"/>
<circle cx="328.6" cy="470.6" r="3.75" fill="#48A9E0"/>
<circle cx="330.6" cy="472.6" r="3.75" fill="#008C8C"/>
<circle cx="334.4" cy="475.8" r="3.75" fill="#399ED6"/>
<circle cx="30" cy="345.7" r="3.75" fill="#40A4DB"/>
<circle cx="32.4" cy="360" r="3.75" fill="#76A8C4"/>
<circle cx="44.3" cy="378.5" r="3.75" fill="#7CA5BC"/>
<circle cx="42" cy="385.4" r="3.75" fill="#57B3E7"/>
<circle cx="44.5" cy="392.7" r="3.75" fill="#009C76"/>
<circle cx="42.9" cy="391.7" r="3.75" fill="#48A9E0"/>
<circle cx="71.3" cy="395.6" r="3.75" fill="#88A0AE"/>
<circle cx="115.6" cy="342.4" r="3.75" fill="#B8B8B8"/>
<circle cx="155" cy="376.8" r="3.75" fill="#B8B8B8"/>
<circle cx="155.2" cy="380.5" r="3.75" fill="#B5B5B5"/>
<circle cx="158.2" cy="378.6" r="3.75" fill="#B5B5B5"/>
<circle cx="160" cy="382.3" r="3.75" fill="#AEAEAE"/>
<circle cx="163.3" cy="383.7" r="3.75" fill="#949B9F"/>
<circle cx="154.5" cy="403.8" r="3.75" fill="#7CA5BC"/>
<circle cx="154.4" cy="397.2" r="3.75" fill="#F4F4F4"/>
<circle cx="163.7" cy="405.2" r="3.75" fill="#B8B8B8"/>
<circle cx="180.7" cy="427.3" r="3.75" fill="#C7C7C7"/>
<circle cx="183.7" cy="436.5" r="3.75" fill="#AEAEAE"/>
<circle cx="183.9" cy="431.4" r="3.75" fill="#AEAEAE"/>
<circle cx="185" cy="433.6" r="3.75" fill="#7CA5BC"/>
<circle cx="182.4" cy="447.5" r="3.75" fill="#B8B8B8"/>
<circle cx="180.4" cy="469.8" r="3.75" fill="#8D9EA8"/>
</g>
<circle cx="472.4" cy="506.4" r="2.6" fill="#000"/>
<text x="483.5" y="510.6">AQS</text>
</g>
<rect class="ax" stroke-linejoin="round" x="28.72" y="28.58" width="484.78" height="492"/>
<path class="ax" d="M38 520.58H505.05M28.72 42.2V509.16M38.5 520.58V527.78M104.5 520.58V527.78M170.8 520.58V527.78M237.4 520.58V527.78M304 520.58V527.78M370.6 520.58V527.78M437.4 520.58V527.78M504.55 520.58V527.78M28.72 508.66H21.52M28.72 431H21.52M28.72 353.34H21.52M28.72 275.68H21.52M28.72 198.02H21.52M28.72 120.36H21.52M28.72 42.7H21.52"/>
<text class="m" letter-spacing="0.5" x="37.5" y="546.4">-115</text>
<text class="m" letter-spacing="0.5" x="103.5" y="546.4">-113</text>
<text class="m" letter-spacing="0.5" x="169.8" y="546.4">-111</text>
<text class="m" letter-spacing="0.5" x="236.4" y="546.4">-109</text>
<text class="m" letter-spacing="0.5" x="303" y="546.4">-107</text>
<text class="m" letter-spacing="0.5" x="369.6" y="546.4">-105</text>
<text class="m" letter-spacing="0.5" x="436.4" y="546.4">-103</text>
<text class="m" letter-spacing="0.5" x="503.55" y="546.4">-101</text>
<text class="m" transform="translate(11.7,509.66) rotate(-90)">31</text>
<text class="m" transform="translate(11.7,432) rotate(-90)">33</text>
<text class="m" transform="translate(11.7,354.34) rotate(-90)">35</text>
<text class="m" transform="translate(11.7,276.68) rotate(-90)">37</text>
<text class="m" transform="translate(11.7,199.02) rotate(-90)">39</text>
<text class="m" transform="translate(11.7,121.36) rotate(-90)">41</text>
<text class="m" transform="translate(11.7,43.7) rotate(-90)">43</text>
</g>
<g transform="translate(600,0)">
<g clip-path="url(#cp)">
<g class="ln">
<path d="M87.5 28.2 L156.2 43.8 L195 51.3 L240 58.3"/>
<path d="M156.2 43.8 L132.5 170 L120 234.5"/>
<path d="M244.6 28.2 L240 58.3 L234.2 96.3"/>
<path d="M234.2 96.3 L291.2 105 L370 114.3 L435 119.5 L492.5 123.8"/>
<path d="M291.2 105 L282.5 170 L271.2 258.8 L263.7 320 L253 400 L242.5 478"/>
<path d="M441.8 28.2 L440.8 42.5 L435 119.5"/>
<path d="M440.8 42.5 L513.8 47"/>
<path d="M492.5 123.8 L490.8 162.5 L483.8 279.5"/>
<path d="M490.8 162.5 L513.8 164.3"/>
<path d="M120 234.5 L220 251.3 L271.2 258.8 L345 268.8 L407.5 275 L455 278 L483.8 279.5 L513.8 280.5"/>
<path d="M455 278 L453.7 297.5 L451.2 320 L446.2 400 L440 472.5"/>
<path d="M453.7 297.5 L513.8 300.5"/>
<path d="M28.5 218.3 L50 250 L76.5 290 L88 306"/>
<path d="M120 234.5 L118 247 L116 257 L114 264 L111.5 268.5 L108.5 270.2 L106 269 L104.5 265.5 L100 263.5 L95 263.5 L92.5 265 L92 269 L92.5 272 L91.5 280 L91.4 285 L91 293 L90.6 297 L90 301 L88 305 L88.4 308 L88 311 L89.4 315 L90 317.6 L91 320 L91.4 324 L92 328 L93.6 330.4 L95 332 L96.4 335 L98 337.4 L95.6 339.6 L93 341 L90 342.2 L87 344 L85 346.4 L83 349 L82.4 352 L82 355 L81 358 L80 361 L77.6 363.2 L75 365 L73.6 367 L72 369 L72.6 373 L71.4 378 L72.4 380.4 L74 382 L77 384 L77.4 388 L75 392 L71 394.5 L66.7 396.7 L65 398 L64 401 L64.5 402"/>
<path d="M28.5 388.7 L38.7 390 L48.7 391.6 L67.3 393.5"/>
<path d="M64.5 402 L177.5 468.3 L185 470 L242.5 478 L270 481.8 L272 464.5 L321.2 470"/>
<path d="M321.2 470 L324 465 L327.5 462 L440 472.5"/>
<path d="M330 473.8 L334.6 475.8 L334.9 480.4 L335.75 483.3 L338.7 486.25 L342.75 488 L345.1 490.9 L348 495 L350.9 498.5 L354.4 501.4 L355.6 504.9 L358.5 507.8 L361.4 510.75 L364.9 513.1 L367.8 514.8 L370.75 517.75 L373.7 519.5 L373.9 520.5"/>
<path d="M52.4 421 L53.6 422.6 L55 425 L56.4 426.4 L58 429 L59.6 429.6 L60.6 431.6 L59.4 432.4 L58.8 430.6 L60 430 L62 431 L65 432 L68 435 L70 437.6 L72 440 L74 442 L76 443.6 L78 445 L80 445.6 L83 444.4 L84.4 442 L84.4 439.6 L85 442 L88 443.6 L90 445.4 L92 446.4 L94 449 L93.6 452.4 L95 453.6 L97 455 L101 457 L104 458.6 L105 457.6 L107 460 L109 461.6 L110.4 463 L110 466 L109.6 469 L108.4 470 L109 468 L108 472 L107 476 L107 480 L108 485 L110 490 L111.6 495 L112 499 L113.6 503 L114 508 L114.4 512 L115.6 516 L116 520.5"/>
<path d="M59 431 L57 434 L55 440 L54.4 444 L53 448 L51.6 456 L52.4 460 L54.4 463 L54.6 466 L55 470 L54 478 L53.4 482 L53 486 L51.6 492 L53 498 L55.6 503 L57.6 506 L58.4 509 L61.6 510.4 L64 513 L66.4 517 L68.6 520.5"/>
<path d="M28.5 517.3 L35 520.5"/>
<path d="M189.7 62.1 L187 62.1 L184.75 63.65 L183.4 65.9 L182.95 69.5 L183.6 73.1 L184.5 76.7 L185.65 80.3 L186.1 83.9 L186.8 87.5 L187.7 89.75 L189 87.5 L190.15 85.25 L191.3 87.05 L191.95 90.2 L192.85 93.35 L194 96.5 L195.1 99.2 L195.6 101"/>
<path d="M189.7 62.1 L189.5 64.55 L189.25 67.25 L190.15 69.5 L191.95 71.5 L193.75 73.1 L194.65 75.35 L194.9 78.5 L196 80.3 L198.25 80.5 L199.9 81.65 L200.95 83.9 L202.1 86.6 L203.2 88.85 L204.1 91.55 L204.8 93.8 L205.2 95.8"/>
<path d="M199.6 98.3 L200.05 95.6 L200.5 92 L200.95 88.85 L202.3 88.85 L202.75 91.1 L203.65 92.9"/>
</g>
<g fill="none" stroke="#000">
<circle cx="278" cy="30" r="4.25" stroke-opacity="0.95" stroke-width="1"/>
<circle cx="320.7" cy="29.5" r="4.25" stroke-opacity="0.95" stroke-width="1"/>
<circle cx="343.7" cy="30" r="4.25" stroke-opacity="0.95" stroke-width="1"/>
<circle cx="309.4" cy="35" r="4.25" stroke-opacity="0.95" stroke-width="1"/>
<circle cx="308.3" cy="47" r="4.25" stroke-opacity="0.95" stroke-width="1"/>
<circle cx="375.7" cy="43.7" r="4.25" stroke-opacity="0.95" stroke-width="1"/>
<circle cx="217.6" cy="50.9" r="4.25" stroke-opacity="0.95" stroke-width="1"/>
<circle cx="216.6" cy="60.5" r="4.25" stroke-opacity="1" stroke-width="1.4"/>
<circle cx="253.4" cy="68.3" r="4.25" stroke-opacity="0.95" stroke-width="1"/>
<circle cx="289.5" cy="81.3" r="4.25" stroke-opacity="0.95" stroke-width="1"/>
<circle cx="449.3" cy="87" r="4.25" stroke-opacity="0.95" stroke-width="1"/>
<circle cx="391.2" cy="103.7" r="4.25" stroke-opacity="0.95" stroke-width="1"/>
<circle cx="393.2" cy="104.6" r="4.25" stroke-opacity="0.95" stroke-width="1"/>
<circle cx="415" cy="111.3" r="4.25" stroke-opacity="0.95" stroke-width="1"/>
<circle cx="209.3" cy="80.3" r="4.25" stroke-opacity="0.95" stroke-width="1"/>
<circle cx="210.2" cy="96" r="4.25" stroke-opacity="1" stroke-width="1.4"/>
<circle cx="208" cy="107" r="4.25" stroke-opacity="1" stroke-width="1.4"/>
<circle cx="210.9" cy="102.6" r="4.25" stroke-opacity="1" stroke-width="1.4"/>
<circle cx="194.4" cy="105.5" r="4.25" stroke-opacity="1" stroke-width="1.4"/>
<circle cx="202.6" cy="111.2" r="4.25" stroke-opacity="1" stroke-width="1.4"/>
<circle cx="211.3" cy="118.3" r="4.25" stroke-opacity="0.95" stroke-width="1"/>
<circle cx="211.4" cy="126.9" r="4.25" stroke-opacity="0.95" stroke-width="1"/>
<circle cx="260" cy="128" r="4.25" stroke-opacity="1" stroke-width="1.4"/>
<circle cx="273.9" cy="123.3" r="4.25" stroke-opacity="0.95" stroke-width="1"/>
<circle cx="295.4" cy="141.4" r="4.25" stroke-opacity="0.95" stroke-width="1"/>
<circle cx="404" cy="134.3" r="4.25" stroke-opacity="0.95" stroke-width="1"/>
<circle cx="414.5" cy="141.3" r="4.25" stroke-opacity="0.95" stroke-width="1"/>
<circle cx="402" cy="150" r="4.25" stroke-opacity="1" stroke-width="1.4"/>
<circle cx="403.7" cy="166.6" r="4.25" stroke-opacity="1" stroke-width="1.4"/>
<circle cx="405.7" cy="163.8" r="4.25" stroke-opacity="1" stroke-width="1.4"/>
<circle cx="400.8" cy="174.5" r="4.25" stroke-opacity="1" stroke-width="1.4"/>
<circle cx="296.1" cy="181.2" r="4.25" stroke-opacity="0.95" stroke-width="1"/>
<circle cx="323.6" cy="192.1" r="4.25" stroke-opacity="0.95" stroke-width="1"/>
<circle cx="405.6" cy="201.7" r="4.25" stroke-opacity="0.95" stroke-width="1"/>
<circle cx="155.3" cy="211" r="4.25" stroke-opacity="0.95" stroke-width="1"/>
<circle cx="143.8" cy="231.2" r="4.25" stroke-opacity="0.95" stroke-width="1"/>
<circle cx="118.8" cy="241.2" r="4.25" stroke-opacity="1" stroke-width="1.4"/>
<circle cx="75.5" cy="258" r="4.25" stroke-opacity="1" stroke-width="1.4"/>
<circle cx="76" cy="263.5" r="4.25" stroke-opacity="1" stroke-width="1.4"/>
<circle cx="80" cy="265.5" r="4.25" stroke-opacity="1" stroke-width="1.4"/>
<circle cx="79" cy="254.5" r="4.25" stroke-opacity="1" stroke-width="1.4"/>
<circle cx="83" cy="262" r="4.25" stroke-opacity="1" stroke-width="1.4"/>
<circle cx="81.3" cy="260.3" r="4.25" stroke-opacity="1" stroke-width="1.4"/>
<circle cx="83.7" cy="257.4" r="4.25" stroke-opacity="1" stroke-width="1.4"/>
<circle cx="89" cy="268.8" r="4.25" stroke-opacity="1" stroke-width="1.4"/>
<circle cx="71.5" cy="272.5" r="4.25" stroke-opacity="1" stroke-width="1.4"/>
<circle cx="307.5" cy="259.4" r="4.25" stroke-opacity="0.95" stroke-width="1"/>
<circle cx="315" cy="259.4" r="4.25" stroke-opacity="0.95" stroke-width="1"/>
<circle cx="374.4" cy="295" r="4.25" stroke-opacity="0.95" stroke-width="1"/>
<circle cx="356.2" cy="323.3" r="4.25" stroke-opacity="0.95" stroke-width="1"/>
<circle cx="335.8" cy="344.5" r="4.25" stroke-opacity="1" stroke-width="1.4"/>
<circle cx="336.5" cy="342.3" r="4.25" stroke-opacity="1" stroke-width="1.4"/>
<circle cx="337.7" cy="338.1" r="4.25" stroke-opacity="1" stroke-width="1.4"/>
<circle cx="341.3" cy="338.5" r="4.25" stroke-opacity="1" stroke-width="1.4"/>
<circle cx="485" cy="349.5" r="4.25" stroke-opacity="0.95" stroke-width="1"/>
<circle cx="485.4" cy="412.6" r="4.25" stroke-opacity="0.95" stroke-width="1"/>
<circle cx="440.6" cy="443.4" r="4.25" stroke-opacity="0.95" stroke-width="1"/>
<circle cx="464.4" cy="478.7" r="4.25" stroke-opacity="0.95" stroke-width="1"/>
<circle cx="321.3" cy="448.8" r="4.25" stroke-opacity="0.95" stroke-width="1"/>
<circle cx="325.5" cy="461.4" r="4.25" stroke-opacity="0.95" stroke-width="1"/>
<circle cx="321.7" cy="469.8" r="4.25" stroke-opacity="0.95" stroke-width="1"/>
<circle cx="328.6" cy="470.6" r="4.25" stroke-opacity="0.95" stroke-width="1"/>
<circle cx="330.6" cy="472.6" r="4.25" stroke-opacity="1" stroke-width="1.4"/>
<circle cx="334.4" cy="475.8" r="4.25" stroke-opacity="0.95" stroke-width="1"/>
<circle cx="30" cy="345.7" r="4.25" stroke-opacity="0.95" stroke-width="1"/>
<circle cx="32.4" cy="360" r="4.25" stroke-opacity="0.95" stroke-width="1"/>
<circle cx="44.3" cy="378.5" r="4.25" stroke-opacity="0.95" stroke-width="1"/>
<circle cx="42" cy="385.4" r="4.25" stroke-opacity="0.95" stroke-width="1"/>
<circle cx="44.5" cy="392.7" r="4.25" stroke-opacity="0.95" stroke-width="1"/>
<circle cx="42.9" cy="391.7" r="4.25" stroke-opacity="0.95" stroke-width="1"/>
<circle cx="71.3" cy="395.6" r="4.25" stroke-opacity="0.95" stroke-width="1"/>
<circle cx="115.6" cy="342.4" r="4.25" stroke-opacity="0.95" stroke-width="1"/>
<circle cx="155" cy="376.8" r="4.25" stroke-opacity="0.95" stroke-width="1"/>
<circle cx="155.2" cy="380.5" r="4.25" stroke-opacity="0.95" stroke-width="1"/>
<circle cx="158.2" cy="378.6" r="4.25" stroke-opacity="0.95" stroke-width="1"/>
<circle cx="160" cy="382.3" r="4.25" stroke-opacity="0.95" stroke-width="1"/>
<circle cx="163.3" cy="383.7" r="4.25" stroke-opacity="0.95" stroke-width="1"/>
<circle cx="154.5" cy="403.8" r="4.25" stroke-opacity="0.95" stroke-width="1"/>
<circle cx="154.4" cy="397.2" r="4.25" stroke-opacity="0.95" stroke-width="1"/>
<circle cx="163.7" cy="405.2" r="4.25" stroke-opacity="0.95" stroke-width="1"/>
<circle cx="180.7" cy="427.3" r="4.25" stroke-opacity="0.95" stroke-width="1"/>
<circle cx="183.7" cy="436.5" r="4.25" stroke-opacity="0.95" stroke-width="1"/>
<circle cx="183.9" cy="431.4" r="4.25" stroke-opacity="0.95" stroke-width="1"/>
<circle cx="185" cy="433.6" r="4.25" stroke-opacity="0.95" stroke-width="1"/>
<circle cx="182.4" cy="447.5" r="4.25" stroke-opacity="0.95" stroke-width="1"/>
<circle cx="180.4" cy="469.8" r="4.25" stroke-opacity="1" stroke-width="1.4"/>
</g>
<g>
<circle cx="278" cy="30" r="3.75" fill="#E5E5E5"/>
<circle cx="320.7" cy="29.5" r="3.75" fill="#E5E5E5"/>
<circle cx="343.7" cy="30" r="3.75" fill="#E5E5E5"/>
<circle cx="309.4" cy="35" r="3.75" fill="#C8DEC8"/>
<circle cx="308.3" cy="47" r="3.75" fill="#E5E5E5"/>
<circle cx="375.7" cy="43.7" r="3.75" fill="#E8E5B9"/>
<circle cx="217.6" cy="50.9" r="3.75" fill="#E5E5E5"/>
<circle cx="216.6" cy="60.5" r="3.75" fill="#E5E5E5"/>
<circle cx="253.4" cy="68.3" r="3.75" fill="#E5E5E5"/>
<circle cx="289.5" cy="81.3" r="3.75" fill="#E5E5E5"/>
<circle cx="449.3" cy="87" r="3.75" fill="#E5E5E5"/>
<circle cx="391.2" cy="103.7" r="3.75" fill="#E5E5E5"/>
<circle cx="393.2" cy="104.6" r="3.75" fill="#E5E5E5"/>
<circle cx="415" cy="111.3" r="3.75" fill="#C8DEC8"/>
<circle cx="209.3" cy="80.3" r="3.75" fill="#E5E5E5"/>
<circle cx="210.2" cy="96" r="3.75" fill="#E5E5E5"/>
<circle cx="202.5" cy="99.3" r="3.75" fill="#E5E5E5"/>
<circle cx="208" cy="107" r="3.75" fill="#C8DEC8"/>
<circle cx="205" cy="104.5" r="3.75" fill="#E5E5E5"/>
<circle cx="207.3" cy="101.8" r="3.75" fill="#C8DEC8"/>
<circle cx="210.9" cy="102.6" r="3.75" fill="#E5E5E5"/>
<circle cx="194.4" cy="105.5" r="3.75" fill="#E5E5E5"/>
<circle cx="202.6" cy="111.2" r="3.75" fill="#E5E5E5"/>
<circle cx="211.3" cy="118.3" r="3.75" fill="#C8DEC8"/>
<circle cx="211.4" cy="126.9" r="3.75" fill="#E5E5E5"/>
<circle cx="260" cy="128" r="3.75" fill="#E5E5E5"/>
<circle cx="273.9" cy="123.3" r="3.75" fill="#C8DEC8"/>
<circle cx="295.4" cy="141.4" r="3.75" fill="#ACD8AC"/>
<circle cx="404" cy="134.3" r="3.75" fill="#ACD8AC"/>
<circle cx="414.5" cy="141.3" r="3.75" fill="#ACD8AC"/>
<circle cx="402" cy="150" r="3.75" fill="#ACD8AC"/>
<circle cx="403.7" cy="166.6" r="3.75" fill="#ACD8AC"/>
<circle cx="405.7" cy="163.8" r="3.75" fill="#ACD8AC"/>
<circle cx="400.8" cy="174.5" r="3.75" fill="#ACD8AC"/>
<circle cx="296.1" cy="181.2" r="3.75" fill="#E5E5E5"/>
<circle cx="323.6" cy="192.1" r="3.75" fill="#C8DEC8"/>
<circle cx="405.6" cy="201.7" r="3.75" fill="#E5E5E5"/>
<circle cx="155.3" cy="211" r="3.75" fill="#C8DEC8"/>
<circle cx="143.8" cy="231.2" r="3.75" fill="#E5E5E5"/>
<circle cx="118.8" cy="241.2" r="3.75" fill="#E5E5E5"/>
<circle cx="75.5" cy="258" r="3.75" fill="#E5E5E5"/>
<circle cx="76" cy="263.5" r="3.75" fill="#E5E5E5"/>
<circle cx="80" cy="265.5" r="3.75" fill="#E5E5E5"/>
<circle cx="79" cy="254.5" r="3.75" fill="#C8DEC8"/>
<circle cx="83" cy="262" r="3.75" fill="#E5E5E5"/>
<circle cx="81.3" cy="260.3" r="3.75" fill="#C8DEC8"/>
<circle cx="83.7" cy="257.4" r="3.75" fill="#C8DEC8"/>
<circle cx="89" cy="268.8" r="3.75" fill="#E5E5E5"/>
<circle cx="71.5" cy="272.5" r="3.75" fill="#E5E5E5"/>
<circle cx="307.5" cy="259.4" r="3.75" fill="#E5E5E5"/>
<circle cx="315" cy="259.4" r="3.75" fill="#E5E5E5"/>
<circle cx="374.4" cy="295" r="3.75" fill="#E5E5E5"/>
<circle cx="356.2" cy="323.3" r="3.75" fill="#E8E5B9"/>
<circle cx="335.8" cy="344.5" r="3.75" fill="#C8DEC8"/>
<circle cx="336.5" cy="342.3" r="3.75" fill="#C8DEC8"/>
<circle cx="337.7" cy="338.1" r="3.75" fill="#E5E5E5"/>
<circle cx="341.3" cy="338.5" r="3.75" fill="#E5E5E5"/>
<circle cx="485" cy="349.5" r="3.75" fill="#C8DEC8"/>
<circle cx="485.4" cy="412.6" r="3.75" fill="#ACD8AC"/>
<circle cx="440.6" cy="443.4" r="3.75" fill="#ACD8AC"/>
<circle cx="464.4" cy="478.7" r="3.75" fill="#71C97B"/>
<circle cx="321.3" cy="448.8" r="3.75" fill="#8FD18F"/>
<circle cx="325.5" cy="461.4" r="3.75" fill="#8FD18F"/>
<circle cx="321.7" cy="469.8" r="3.75" fill="#ACD8AC"/>
<circle cx="328.6" cy="470.6" r="3.75" fill="#71C97B"/>
<circle cx="330.6" cy="472.6" r="3.75" fill="#00967E"/>
<circle cx="334.4" cy="475.8" r="3.75" fill="#71C97B"/>
<circle cx="30" cy="345.7" r="3.75" fill="#4FBC79"/>
<circle cx="32.4" cy="360" r="3.75" fill="#ACD8AC"/>
<circle cx="44.3" cy="378.5" r="3.75" fill="#ACD8AC"/>
<circle cx="42" cy="385.4" r="3.75" fill="#8FD18F"/>
<circle cx="44.5" cy="392.7" r="3.75" fill="#008A90"/>
<circle cx="42.9" cy="391.7" r="3.75" fill="#71C97B"/>
<circle cx="71.3" cy="395.6" r="3.75" fill="#ACD8AC"/>
<circle cx="115.6" cy="342.4" r="3.75" fill="#E5E5E5"/>
<circle cx="155" cy="376.8" r="3.75" fill="#E5E5E5"/>
<circle cx="155.2" cy="380.5" r="3.75" fill="#E5E5E5"/>
<circle cx="158.2" cy="378.6" r="3.75" fill="#E5E5E5"/>
<circle cx="160" cy="382.3" r="3.75" fill="#C8DEC8"/>
<circle cx="163.3" cy="383.7" r="3.75" fill="#C8DEC8"/>
<circle cx="154.5" cy="403.8" r="3.75" fill="#ACD8AC"/>
<circle cx="154.4" cy="397.2" r="3.75" fill="#E8E5B9"/>
<circle cx="163.7" cy="405.2" r="3.75" fill="#E5E5E5"/>
<circle cx="180.7" cy="427.3" r="3.75" fill="#E5E5E5"/>
<circle cx="183.7" cy="436.5" r="3.75" fill="#E5E5E5"/>
<circle cx="183.9" cy="431.4" r="3.75" fill="#E5E5E5"/>
<circle cx="185" cy="433.6" r="3.75" fill="#ACD8AC"/>
<circle cx="182.4" cy="447.5" r="3.75" fill="#E5E5E5"/>
<circle cx="180.4" cy="469.8" r="3.75" fill="#ACD8AC"/>
</g>
<circle cx="472.4" cy="506.4" r="2.6" fill="#000"/>
<text x="483.5" y="510.6">AQS</text>
</g>
<rect class="ax" stroke-linejoin="round" x="28.72" y="28.58" width="484.78" height="492"/>
<path class="ax" d="M38 520.58H505.05M28.72 42.2V509.16M38.5 520.58V527.78M104.5 520.58V527.78M170.8 520.58V527.78M237.4 520.58V527.78M304 520.58V527.78M370.6 520.58V527.78M437.4 520.58V527.78M504.55 520.58V527.78M28.72 508.66H21.52M28.72 431H21.52M28.72 353.34H21.52M28.72 275.68H21.52M28.72 198.02H21.52M28.72 120.36H21.52M28.72 42.7H21.52"/>
<text class="m" letter-spacing="0.5" x="37.5" y="546.4">-115</text>
<text class="m" letter-spacing="0.5" x="103.5" y="546.4">-113</text>
<text class="m" letter-spacing="0.5" x="169.8" y="546.4">-111</text>
<text class="m" letter-spacing="0.5" x="236.4" y="546.4">-109</text>
<text class="m" letter-spacing="0.5" x="303" y="546.4">-107</text>
<text class="m" letter-spacing="0.5" x="369.6" y="546.4">-105</text>
<text class="m" letter-spacing="0.5" x="436.4" y="546.4">-103</text>
<text class="m" letter-spacing="0.5" x="503.55" y="546.4">-101</text>
<text class="m" transform="translate(11.7,509.66) rotate(-90)">31</text>
<text class="m" transform="translate(11.7,432) rotate(-90)">33</text>
<text class="m" transform="translate(11.7,354.34) rotate(-90)">35</text>
<text class="m" transform="translate(11.7,276.68) rotate(-90)">37</text>
<text class="m" transform="translate(11.7,199.02) rotate(-90)">39</text>
<text class="m" transform="translate(11.7,121.36) rotate(-90)">41</text>
<text class="m" transform="translate(11.7,43.7) rotate(-90)">43</text>
</g>
<text class="t" x="271.3" y="20">EMBER 36km: ATOTIJ_AVG on 05/24/2022</text>
<text class="t" x="871.3" y="20">EMBER bias: ATOTIJ_AVG on 05/24/2022</text>
<text x="140.7" y="568" textLength="260.4" lengthAdjust="spacing">Domain size: 37x37 | Max Model = 220 at (8, 20)</text>
<text class="m" x="270.7" y="582.4">Max Obs: 27</text>
<text class="m" x="871.5" y="568">Bias Summary: [ min, 25th %, 50th %, 75th %, max ]</text>
<text y="582.4"><tspan x="818.9">[</tspan><tspan x="825">-25,</tspan><tspan x="854.5">-4.1,</tspan><tspan x="887">-1.9,</tspan><tspan x="920">-1,</tspan><tspan x="943.2">3.1</tspan><tspan x="963.4">]</tspan></text>
<g shape-rendering="crispEdges">
<rect x="546" y="487.80" width="7.5" height="8.70" fill="#E5E5E5"/>
<rect x="546" y="479.11" width="7.5" height="9.00" fill="#D7D7D7"/>
<rect x="546" y="470.41" width="7.5" height="9.00" fill="#CACACA"/>
<rect x="546" y="461.72" width="7.5" height="9.00" fill="#BCBCBC"/>
<rect x="546" y="453.02" width="7.5" height="9.00" fill="#AEAEAE"/>
<rect x="546" y="444.32" width="7.5" height="9.00" fill="#A1A1A1"/>
<rect x="546" y="435.63" width="7.5" height="9.00" fill="#949B9F"/>
<rect x="546" y="426.93" width="7.5" height="9.00" fill="#88A0AE"/>
<rect x="546" y="418.24" width="7.5" height="9.00" fill="#7CA5BC"/>
<rect x="546" y="409.54" width="7.5" height="9.00" fill="#6FAACB"/>
<rect x="546" y="400.84" width="7.5" height="9.00" fill="#63AFD9"/>
<rect x="546" y="392.15" width="7.5" height="9.00" fill="#57B3E7"/>
<rect x="546" y="383.45" width="7.5" height="9.00" fill="#48A9E0"/>
<rect x="546" y="374.75" width="7.5" height="9.00" fill="#399ED6"/>
<rect x="546" y="366.06" width="7.5" height="9.00" fill="#2992CC"/>
<rect x="546" y="357.36" width="7.5" height="9.00" fill="#1A86C2"/>
<rect x="546" y="348.67" width="7.5" height="9.00" fill="#0A7AB9"/>
<rect x="546" y="339.97" width="7.5" height="9.00" fill="#0075AE"/>
<rect x="546" y="331.27" width="7.5" height="9.00" fill="#007DA3"/>
<rect x="546" y="322.58" width="7.5" height="9.00" fill="#008498"/>
<rect x="546" y="313.88" width="7.5" height="9.00" fill="#008C8C"/>
<rect x="546" y="305.19" width="7.5" height="9.00" fill="#009481"/>
<rect x="546" y="296.49" width="7.5" height="9.00" fill="#009C76"/>
<rect x="546" y="287.79" width="7.5" height="9.00" fill="#22A86C"/>
<rect x="546" y="279.10" width="7.5" height="9.00" fill="#4DB463"/>
<rect x="546" y="270.40" width="7.5" height="9.00" fill="#78C15A"/>
<rect x="546" y="261.71" width="7.5" height="9.00" fill="#A3CE52"/>
<rect x="546" y="253.01" width="7.5" height="9.00" fill="#CEDA49"/>
<rect x="546" y="244.31" width="7.5" height="9.00" fill="#F0E13F"/>
<rect x="546" y="235.62" width="7.5" height="9.00" fill="#EED533"/>
<rect x="546" y="226.92" width="7.5" height="9.00" fill="#ECC828"/>
<rect x="546" y="218.23" width="7.5" height="9.00" fill="#EABC1C"/>
<rect x="546" y="209.53" width="7.5" height="9.00" fill="#E8B010"/>
<rect x="546" y="200.83" width="7.5" height="9.00" fill="#E7A304"/>
<rect x="546" y="192.14" width="7.5" height="9.00" fill="#E49700"/>
<rect x="546" y="183.44" width="7.5" height="9.00" fill="#E18C00"/>
<rect x="546" y="174.75" width="7.5" height="9.00" fill="#DE8000"/>
<rect x="546" y="166.05" width="7.5" height="9.00" fill="#DB7400"/>
<rect x="546" y="157.35" width="7.5" height="9.00" fill="#D86800"/>
<rect x="546" y="148.66" width="7.5" height="9.00" fill="#D55F03"/>
<rect x="546" y="139.96" width="7.5" height="9.00" fill="#D36321"/>
<rect x="546" y="131.26" width="7.5" height="9.00" fill="#D2683F"/>
<rect x="546" y="122.57" width="7.5" height="9.00" fill="#D06D5E"/>
<rect x="546" y="113.87" width="7.5" height="9.00" fill="#CE727C"/>
<rect x="546" y="105.18" width="7.5" height="9.00" fill="#CD779A"/>
<rect x="546" y="96.48" width="7.5" height="9.00" fill="#D16D96"/>
<rect x="546" y="87.78" width="7.5" height="9.00" fill="#DA5778"/>
<rect x="546" y="79.09" width="7.5" height="9.00" fill="#E3415A"/>
<rect x="546" y="70.39" width="7.5" height="9.00" fill="#ED2C3C"/>
<rect x="546" y="61.70" width="7.5" height="9.00" fill="#F6161E"/>
<rect x="546" y="53.00" width="7.5" height="9.00" fill="#FF0000"/>
</g>
<rect class="ax" stroke-opacity="0.75" x="545.75" y="53" width="7.75" height="443.5"/>
<text x="568.1" y="496.1">0</text>
<text x="568.1" y="452.65">5</text>
<text x="568.1" y="409.2">10</text>
<text x="568.1" y="365.75">15</text>
<text x="568.1" y="322.3">20</text>
<text x="568.1" y="278.85">25</text>
<text x="568.1" y="235.4">30</text>
<text x="568.1" y="191.95">35</text>
<text x="568.1" y="148.5">40</text>
<text x="568.1" y="105.05">45</text>
<text x="568.1" y="61.6">50</text>
<path class="ax" d="M553.5 53V496.5M553.5 491.8H560.7M553.5 448.35H560.7M553.5 404.9H560.7M553.5 361.45H560.7M553.5 318H560.7M553.5 274.55H560.7M553.5 231.1H560.7M553.5 187.65H560.7M553.5 144.2H560.7M553.5 100.75H560.7M553.5 57.3H560.7"/>
<text x="533" y="50.6">ug/m3</text>
<g shape-rendering="crispEdges">
<rect x="1146" y="487.26" width="7.5" height="9.24" fill="#602689"/>
<rect x="1146" y="478.02" width="7.5" height="9.54" fill="#602689"/>
<rect x="1146" y="468.78" width="7.5" height="9.54" fill="#7124A5"/>
<rect x="1146" y="459.54" width="7.5" height="9.54" fill="#8323C1"/>
<rect x="1146" y="450.30" width="7.5" height="9.54" fill="#9421DD"/>
<rect x="1146" y="441.06" width="7.5" height="9.54" fill="#911DF1"/>
<rect x="1146" y="431.82" width="7.5" height="9.54" fill="#6614F5"/>
<rect x="1146" y="422.58" width="7.5" height="9.54" fill="#3A0CFA"/>
<rect x="1146" y="413.34" width="7.5" height="9.54" fill="#0F03FE"/>
<rect x="1146" y="404.10" width="7.5" height="9.54" fill="#0015F1"/>
<rect x="1146" y="394.86" width="7.5" height="9.54" fill="#0034DC"/>
<rect x="1146" y="385.62" width="7.5" height="9.54" fill="#0053C7"/>
<rect x="1146" y="376.39" width="7.5" height="9.54" fill="#0072B2"/>
<rect x="1146" y="367.15" width="7.5" height="9.54" fill="#007EA1"/>
<rect x="1146" y="357.91" width="7.5" height="9.54" fill="#008A90"/>
<rect x="1146" y="348.67" width="7.5" height="9.54" fill="#00967E"/>
<rect x="1146" y="339.43" width="7.5" height="9.54" fill="#0BA274"/>
<rect x="1146" y="330.19" width="7.5" height="9.54" fill="#2DAF76"/>
<rect x="1146" y="320.95" width="7.5" height="9.54" fill="#4FBC79"/>
<rect x="1146" y="311.71" width="7.5" height="9.54" fill="#71C97B"/>
<rect x="1146" y="302.47" width="7.5" height="9.54" fill="#8FD18F"/>
<rect x="1146" y="293.23" width="7.5" height="9.54" fill="#ACD8AC"/>
<rect x="1146" y="283.99" width="7.5" height="9.54" fill="#C8DEC8"/>
<rect x="1146" y="274.75" width="7.5" height="9.54" fill="#E5E5E5"/>
<rect x="1146" y="265.51" width="7.5" height="9.54" fill="#E5E5E5"/>
<rect x="1146" y="256.27" width="7.5" height="9.54" fill="#E8E5B9"/>
<rect x="1146" y="247.03" width="7.5" height="9.54" fill="#EBE48C"/>
<rect x="1146" y="237.79" width="7.5" height="9.54" fill="#EEE460"/>
<rect x="1146" y="228.55" width="7.5" height="9.54" fill="#EFDE3C"/>
<rect x="1146" y="219.31" width="7.5" height="9.54" fill="#ECCB2A"/>
<rect x="1146" y="210.07" width="7.5" height="9.54" fill="#EAB818"/>
<rect x="1146" y="200.83" width="7.5" height="9.54" fill="#E7A506"/>
<rect x="1146" y="191.59" width="7.5" height="9.54" fill="#E39300"/>
<rect x="1146" y="182.35" width="7.5" height="9.54" fill="#DE8100"/>
<rect x="1146" y="173.11" width="7.5" height="9.54" fill="#DA7000"/>
<rect x="1146" y="163.87" width="7.5" height="9.54" fill="#D55E00"/>
<rect x="1146" y="154.64" width="7.5" height="9.54" fill="#D3652E"/>
<rect x="1146" y="145.40" width="7.5" height="9.54" fill="#D06D5B"/>
<rect x="1146" y="136.16" width="7.5" height="9.54" fill="#CE7489"/>
<rect x="1146" y="126.92" width="7.5" height="9.54" fill="#D16E98"/>
<rect x="1146" y="117.68" width="7.5" height="9.54" fill="#DF4D6A"/>
<rect x="1146" y="108.44" width="7.5" height="9.54" fill="#EC2C3D"/>
<rect x="1146" y="99.20" width="7.5" height="9.54" fill="#FA0B0F"/>
<rect x="1146" y="89.96" width="7.5" height="9.54" fill="#EF0808"/>
<rect x="1146" y="80.72" width="7.5" height="9.54" fill="#D61313"/>
<rect x="1146" y="71.48" width="7.5" height="9.54" fill="#BE1F1F"/>
<rect x="1146" y="62.24" width="7.5" height="9.54" fill="#A52A2A"/>
<rect x="1146" y="53.00" width="7.5" height="9.54" fill="#A52A2A"/>
</g>
<rect class="ax" stroke-opacity="0.75" x="1145.75" y="53" width="7.75" height="443.5"/>
<text x="1168.1" y="495.8">-450</text>
<text x="1168.1" y="459.64">-40</text>
<text x="1168.1" y="369.24">-20</text>
<text x="1168.1" y="278.84">0</text>
<text x="1168.1" y="188.44">20</text>
<text x="1168.1" y="98.04">40</text>
<text x="1168.1" y="61.88">10000</text>
<path class="ax" d="M1153.5 53V496.5M1153.5 491.5H1160.7M1153.5 455.34H1160.7M1153.5 364.94H1160.7M1153.5 274.54H1160.7M1153.5 184.14H1160.7M1153.5 93.74H1160.7M1153.5 57.58H1160.7"/>
<text x="1133" y="50.6">ug/m3</text>
</svg>
</body></html>
